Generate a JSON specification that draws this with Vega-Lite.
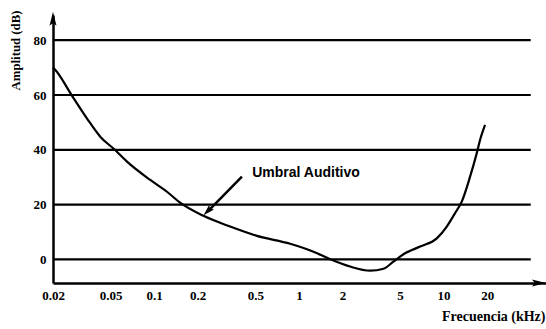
{
  "$schema": "https://vega.github.io/schema/vega-lite/v6.json",
  "width": 493,
  "height": 268,
  "autosize": {"type": "none"},
  "padding": {"left": 53, "top": 15, "right": 0, "bottom": 46},
  "background": "white",
  "config": {"view": {"stroke": null}},
  "datasets": {
    "curve": [
      {"f": 0.0200, "db": 70.0},
      {"f": 0.0207, "db": 69.2},
      {"f": 0.0271, "db": 59.7},
      {"f": 0.0343, "db": 51.5},
      {"f": 0.0424, "db": 44.8},
      {"f": 0.0530, "db": 40.2},
      {"f": 0.0649, "db": 35.7},
      {"f": 0.094, "db": 29.0},
      {"f": 0.1226, "db": 24.7},
      {"f": 0.151, "db": 20.7},
      {"f": 0.219, "db": 15.9},
      {"f": 0.335, "db": 12.0},
      {"f": 0.513, "db": 8.6},
      {"f": 0.871, "db": 5.7},
      {"f": 1.261, "db": 2.8},
      {"f": 1.644, "db": 0.1},
      {"f": 2.26, "db": -2.6},
      {"f": 3.11, "db": -4.1},
      {"f": 3.84, "db": -3.4},
      {"f": 4.50, "db": -0.8},
      {"f": 5.28, "db": 1.9},
      {"f": 6.88, "db": 4.7},
      {"f": 8.97, "db": 7.7},
      {"f": 10.52, "db": 12.0},
      {"f": 12.0, "db": 16.9},
      {"f": 13.35, "db": 21.1},
      {"f": 15.24, "db": 30.2},
      {"f": 16.95, "db": 38.8},
      {"f": 17.86, "db": 43.6},
      {"f": 19.34, "db": 49.1}
    ],
    "grid": [{"g": 0}, {"g": 20}, {"g": 40}, {"g": 60}, {"g": 80}],
    "one": [{}]
  },
  "layer": [
    {
      "data": {"name": "grid"},
      "mark": {"type": "rule", "color": "black", "strokeWidth": 2.2},
      "encoding": {
        "x": {"datum": 0.02, "type": "quantitative", "scale": {"type": "log", "domain": [0.02, 51], "nice": false}},
        "x2": {"datum": 40},
        "y": {"field": "g", "type": "quantitative", "scale": {"domain": [-8.6, 89.2], "nice": false, "zero": false}}
      }
    },
    {
      "data": {"name": "curve"},
      "mark": {"type": "line", "color": "black", "strokeWidth": 2.2, "interpolate": "monotone"},
      "encoding": {
        "x": {
          "field": "f", "type": "quantitative",
          "scale": {"type": "log", "domain": [0.02, 51], "nice": false},
          "axis": {
            "values": [0.02, 0.05, 0.1, 0.2, 0.5, 1, 2, 5, 10, 20],
            "format": "~g",
            "ticks": false,
            "grid": false,
            "domainColor": "black",
            "domainWidth": 2.5,
            "labelFont": "Liberation Serif",
            "labelFontWeight": "bold",
            "labelFontSize": 13,
            "labelColor": "black",
            "labelPadding": 6,
            "labelFlush": false,
            "labelOverlap": false,
            "title": "Frecuencia (kHz)",
            "titleFont": "Liberation Serif",
            "titleFontWeight": "bold",
            "titleFontSize": 14,
            "titleColor": "black",
            "titleAnchor": "end",
            "titleAlign": "right",
            "titleBaseline": "middle",
            "titleX": 492,
            "titleY": 33
          }
        },
        "y": {
          "field": "db", "type": "quantitative",
          "scale": {"domain": [-8.6, 89.2], "nice": false, "zero": false},
          "axis": {
            "values": [0, 20, 40, 60, 80],
            "ticks": false,
            "grid": false,
            "domainColor": "black",
            "domainWidth": 2.5,
            "labelFont": "Liberation Serif",
            "labelFontWeight": "bold",
            "labelFontSize": 13,
            "labelColor": "black",
            "labelPadding": 7,
            "title": "Amplitud (dB)",
            "titleFont": "Liberation Serif",
            "titleFontWeight": "bold",
            "titleFontSize": 12.8,
            "titleColor": "black",
            "titleAngle": 270,
            "titleAlign": "right",
            "titleBaseline": "middle",
            "titleX": -38,
            "titleY": -5
          }
        }
      }
    },
    {
      "data": {"name": "one"},
      "mark": {"type": "rule", "color": "black", "strokeWidth": 2.5},
      "encoding": {
        "x": {"datum": 0.404, "type": "quantitative"},
        "y": {"datum": 30.2, "type": "quantitative"},
        "x2": {"datum": 0.236},
        "y2": {"datum": 17.6}
      }
    },
    {
      "data": {"name": "one"},
      "mark": {"type": "point", "filled": true, "color": "black", "opacity": 1, "shape": "M0,-1L0.6,1L0,0.6L-0.6,1Z", "size": 130, "angle": 225},
      "encoding": {
        "x": {"datum": 0.234, "type": "quantitative"},
        "y": {"datum": 17.6, "type": "quantitative"}
      }
    },
    {
      "data": {"name": "one"},
      "mark": {"type": "point", "filled": true, "color": "black", "opacity": 1, "shape": "M0,-1L0.5,1L0,0.6L-0.5,1Z", "size": 196, "angle": 0},
      "encoding": {
        "x": {"datum": 0.02, "type": "quantitative"},
        "y": {"datum": 87.8, "type": "quantitative"}
      }
    },
    {
      "data": {"name": "one"},
      "mark": {"type": "point", "filled": true, "color": "black", "opacity": 1, "shape": "M0,-1L0.5,1L0,0.6L-0.5,1Z", "size": 196, "angle": 90},
      "encoding": {
        "x": {"datum": 45.6, "type": "quantitative"},
        "y": {"datum": -8.6, "type": "quantitative"}
      }
    },
    {
      "data": {"name": "one"},
      "mark": {"type": "text", "text": "Umbral Auditivo", "align": "left", "baseline": "middle", "font": "Liberation Sans", "fontWeight": "bold", "fontSize": 14, "color": "black"},
      "encoding": {
        "x": {"datum": 0.476, "type": "quantitative"},
        "y": {"datum": 31.7, "type": "quantitative"}
      }
    }
  ]
}
